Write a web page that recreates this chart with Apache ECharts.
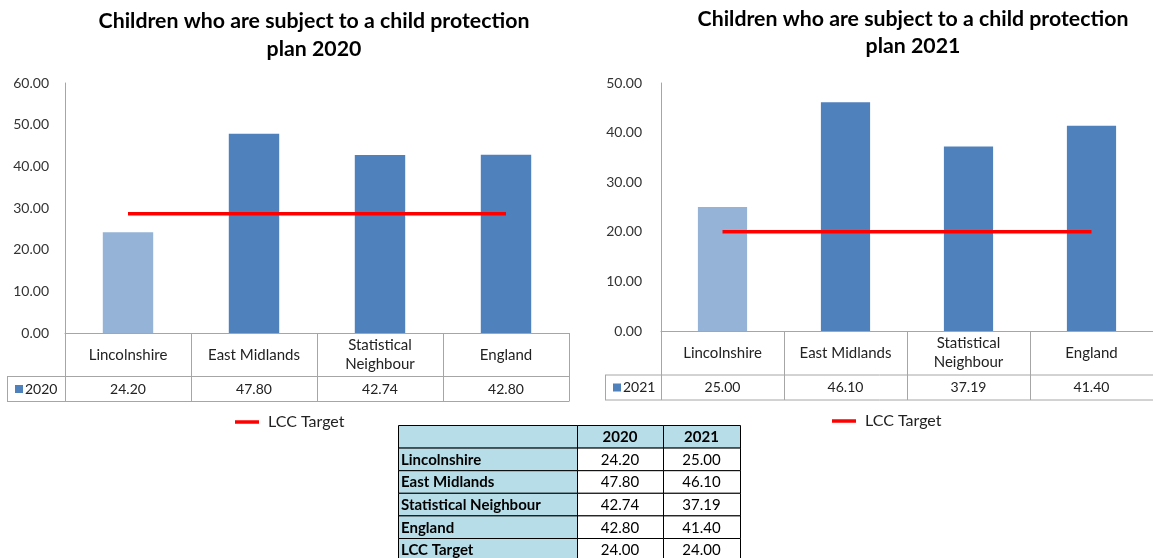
<!DOCTYPE html>
<html><head><meta charset="utf-8">
<script src="https://cdn.jsdelivr.net/npm/echarts@6/dist/echarts.min.js"></script>
<style>html,body{margin:0;padding:0;background:#fff}#c{width:1153px;height:558px}</style>
</head><body><div id="c"></div>
<script>
// ---- data ----
const categories = ['Lincolnshire', 'East Midlands', 'Statistical Neighbour', 'England'];
const axisLabels = ['Lincolnshire', 'East Midlands', 'Statistical\nNeighbour', 'England'];
const values2020 = [24.20, 47.80, 42.74, 42.80];
const values2021 = [25.00, 46.10, 37.19, 41.40];
const targetLine2020 = [28.6, 28.6, 28.6, 28.6];   // target line as drawn in the 2020 chart
const targetLine2021 = [20.0, 20.0, 20.0, 20.0];   // target line as drawn in the 2021 chart
const tableRows = ['Lincolnshire', 'East Midlands', 'Statistical Neighbour', 'England', 'LCC Target'];
const table2020 = [24.20, 47.80, 42.74, 42.80, 24.00];
const table2021 = [25.00, 46.10, 37.19, 41.40, 24.00];
const tableHeaders = ['', '2020', '2021'];
const yMax2020 = 60, yMax2021 = 50, yStep = 10;
const titles = ['Children who are subject to a child protection\nplan 2020', 'Children who are subject to a child protection\nplan 2021'];

// ---- layout ----
const FONT = 'Lato';
const DARK = '#4f81bd', LIGHT = '#95b3d7', RED = '#ff0000', GRID_C = '#a6a6a6';
const P = [
  {left: 65, top: 83, width: 504, height: 250, cellLeft: 7, r1: 376.5, r2: 401.5, tx: 314, ty: 7, lh: 28, lgx: 230, lgy: 409, ylm: 16},
  {left: 661, top: 83, width: 496, height: 248, cellLeft: 605, r1: 375, r2: 400, tx: 913, ty: 5.5, lh: 27, lgx: 827, lgy: 408, ylm: 19}
];
const years = ['2020', '2021'];
const vals = [values2020, values2021];
const targets = [targetLine2020, targetLine2021];
const maxes = [yMax2020, yMax2021];

const chart = echarts.init(document.getElementById('c'));
const grid = [], xAxis = [], yAxis = [], series = [], legend = [], graphic = [];

P.forEach((p, k) => {
  grid.push({left: p.left, top: p.top, width: p.width, height: p.height, containLabel: false});
  const bottom = p.top + p.height;
  // category axis (with label row of the data table)
  xAxis.push({
    type: 'category', gridIndex: k, data: axisLabels, position: 'bottom',
    axisLine: {show: true, lineStyle: {color: GRID_C, width: 1}},
    axisTick: {show: true, interval: 0, alignWithLabel: false, length: p.r2 - bottom, lineStyle: {color: GRID_C}},
    axisLabel: {interval: 0, fontFamily: FONT, fontSize: 15, color: '#222', verticalAlign: 'middle',
      margin: (p.r1 - bottom) / 2, lineHeight: 19}
  });
  // value row of the data table
  xAxis.push({
    type: 'category', gridIndex: k, data: vals[k].map(v => v.toFixed(2)), position: 'bottom',
    offset: p.r1 - bottom,
    axisLine: {show: false}, axisTick: {show: false},
    axisLabel: {interval: 0, fontFamily: FONT, fontSize: 14, color: '#222', verticalAlign: 'middle',
      margin: (p.r2 - p.r1) / 2}
  });
  yAxis.push({
    type: 'value', gridIndex: k, min: 0, max: maxes[k], interval: yStep,
    axisLine: {show: true, lineStyle: {color: GRID_C}}, axisTick: {show: false},
    splitLine: {show: false},
    axisLabel: {formatter: v => v.toFixed(2), fontFamily: FONT, fontSize: 14, color: '#333', margin: p.ylm}
  });
  series.push({
    name: years[k], type: 'bar', xAxisIndex: 2 * k, yAxisIndex: k, barWidth: '40%',
    data: vals[k].map((v, i) => ({value: v, itemStyle: {color: i === 0 ? LIGHT : DARK}})),
    silent: true
  });
  series.push({
    name: 'LCC Target', type: 'line', xAxisIndex: 2 * k, yAxisIndex: k, data: targets[k],
    symbol: 'none', lineStyle: {color: RED, width: 3.5}, itemStyle: {color: RED}, z: 5, silent: true
  });
  legend.push({
    data: [{name: 'LCC Target', icon: 'rect'}], left: p.lgx, top: p.lgy, itemWidth: 24, itemHeight: 3.5, selectedMode: false,
    textStyle: {fontFamily: FONT, fontSize: 16, color: '#222', padding: [0, 0, 0, 4]}
  });
  // title
  graphic.push({type: 'text', x: p.tx, y: p.ty, silent: true,
    style: {text: titles[k], align: 'center', verticalAlign: 'top', lineHeight: p.lh,
      font: 'bold 21.3px ' + FONT, fill: '#000'}});
  // data table extra lines
  const right = p.left + p.width;
  const ls = {stroke: GRID_C, lineWidth: 1};
  graphic.push({type: 'line', silent: true, shape: {x1: p.cellLeft, y1: p.r1, x2: right, y2: p.r1}, style: ls});
  graphic.push({type: 'line', silent: true, shape: {x1: p.cellLeft, y1: p.r2, x2: right, y2: p.r2}, style: ls});
  graphic.push({type: 'line', silent: true, shape: {x1: p.cellLeft + 0.5, y1: p.r1, x2: p.cellLeft + 0.5, y2: p.r2}, style: ls});
  graphic.push({type: 'rect', silent: true, shape: {x: p.cellLeft + 8, y: (p.r1 + p.r2) / 2 - 4, width: 8, height: 8}, style: {fill: DARK}});
  graphic.push({type: 'text', silent: true, x: p.cellLeft + 18, y: (p.r1 + p.r2) / 2,
    style: {text: years[k], verticalAlign: 'middle', font: '14px ' + FONT, fill: '#222'}});
});

// ---- bottom summary table ----
const cx = [398, 577, 663, 740];
const rowY0 = 425, rowH = 22.6;
const TBL_BLUE = '#b7dee8';
const allRows = [tableHeaders].concat(tableRows.map((r, i) => [r, table2020[i].toFixed(2), table2021[i].toFixed(2)]));
allRows.forEach((row, ri) => {
  const y = rowY0 + ri * rowH;
  row.forEach((txt, ci) => {
    const blue = ri === 0 || ci === 0;
    graphic.push({type: 'rect', silent: true,
      shape: {x: cx[ci] + 0.5, y: y + 0.5, width: cx[ci + 1] - cx[ci], height: rowH},
      style: {fill: blue ? TBL_BLUE : '#fff', stroke: '#000', lineWidth: 1}});
    if (txt) {
      const bold = ri === 0 || ci === 0;
      graphic.push({type: 'text', silent: true,
        x: ci === 0 ? cx[0] + 3 : (cx[ci] + cx[ci + 1]) / 2, y: y + rowH / 2 + 1,
        style: {text: txt, align: ci === 0 ? 'left' : 'center', verticalAlign: 'middle',
          font: (bold ? 'bold ' : '') + '15px ' + FONT, fill: '#000'}});
    }
  });
});

chart.setOption({
  animation: false,
  backgroundColor: '#fff',
  grid, xAxis, yAxis, series, legend, graphic
});
</script>
</body></html>
